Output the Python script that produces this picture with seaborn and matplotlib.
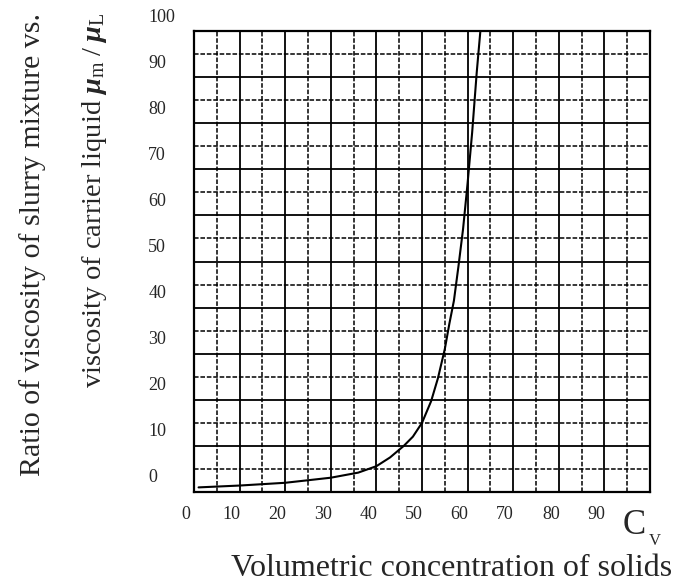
import matplotlib
matplotlib.use("Agg")
import matplotlib.pyplot as plt
import matplotlib.transforms as mtransforms
from matplotlib.ticker import MultipleLocator
import numpy as np
import pandas as pd
import seaborn as sns

# Data
cv = [1, 10, 20, 30, 36, 40, 43, 46, 48, 50, 52, 53.5, 55, 56, 57, 58, 59, 60, 61, 62, 62.8]
ratio = [1.0, 1.4, 2.0, 3.1, 4.2, 5.6, 7.5, 10, 12, 15, 19.7, 24.7, 31, 36.5, 41.5, 49, 57, 67, 78, 91, 100]
x_ticks = [0, 10, 20, 30, 40, 50, 60, 70, 80, 90]
y_ticks = [0, 10, 20, 30, 40, 50, 60, 70, 80, 90, 100]

sns.set_style("white")
plt.rcParams['font.family'] = ['Liberation Serif', 'DejaVu Serif']
plt.rcParams['mathtext.fontset'] = 'custom'
plt.rcParams['mathtext.rm'] = 'Liberation Serif'
plt.rcParams['mathtext.it'] = 'Liberation Serif:italic:bold'

df = pd.DataFrame({"cv": cv, "ratio": ratio})

fig = plt.figure(figsize=(6.75, 5.88), dpi=100)
ax = fig.add_axes([194/675, 1-492/588, (650-194)/675, (492-31)/588])

ax.set_xlim(0, 100)
ax.set_ylim(0, 100)
ax.xaxis.set_major_locator(MultipleLocator(10))
ax.yaxis.set_major_locator(MultipleLocator(10))
ax.xaxis.set_minor_locator(MultipleLocator(5))
ax.yaxis.set_minor_locator(MultipleLocator(5))
ax.grid(which='major', color='black', lw=1.3, ls='-')
ax.grid(which='minor', color='black', lw=1.1, ls=(0, (3, 1.2)))
ax.set_axisbelow(True)

sns.lineplot(data=df, x="cv", y="ratio", ax=ax, color='black', lw=1.5, sort=False)

ax.set_xticks(x_ticks)
ax.set_xticklabels([str(v) for v in x_ticks], fontsize=13)
ax.set_yticks(y_ticks)
ax.set_yticklabels([str(v) for v in y_ticks], fontsize=13)
ax.tick_params(axis='both', which='both', length=0)
ax.tick_params(axis='x', pad=10)
ax.tick_params(axis='y', pad=33)
for lab in ax.get_yticklabels():
    lab.set_horizontalalignment('left')
    lab.set_transform(lab.get_transform() + mtransforms.ScaledTranslation(0, 0.16, fig.dpi_scale_trans))
for lab in ax.get_xticklabels():
    lab.set_transform(lab.get_transform() + mtransforms.ScaledTranslation(-0.08, 0, fig.dpi_scale_trans))

ax.set_xlabel("")
ax.set_ylabel("")
for sp in ax.spines.values():
    sp.set_visible(True)
    sp.set_color('black')
    sp.set_linewidth(1.6)

# Axis labels
fig.text(634/675, 1-525/588, "C", fontsize=25, ha='center', va='center')
fig.text(655/675, 1-541/588, "V", fontsize=12, ha='center', va='center')
fig.text(452/675, 1-568/588, "Volumetric concentration of solids", fontsize=23,
         ha='center', va='center')
fig.text(33/675, 1-13/588, "Ratio of viscosity of slurry mixture vs.", fontsize=21.5,
         rotation=90, ha='center', va='top')
fig.text(95/675, 1-13/588, r"viscosity of carrier liquid $\mu_{\rm m}\;/\;\mu_{\rm L}$", fontsize=20.5,
         rotation=90, ha='center', va='top')

fig.savefig("out.png", dpi=100)
